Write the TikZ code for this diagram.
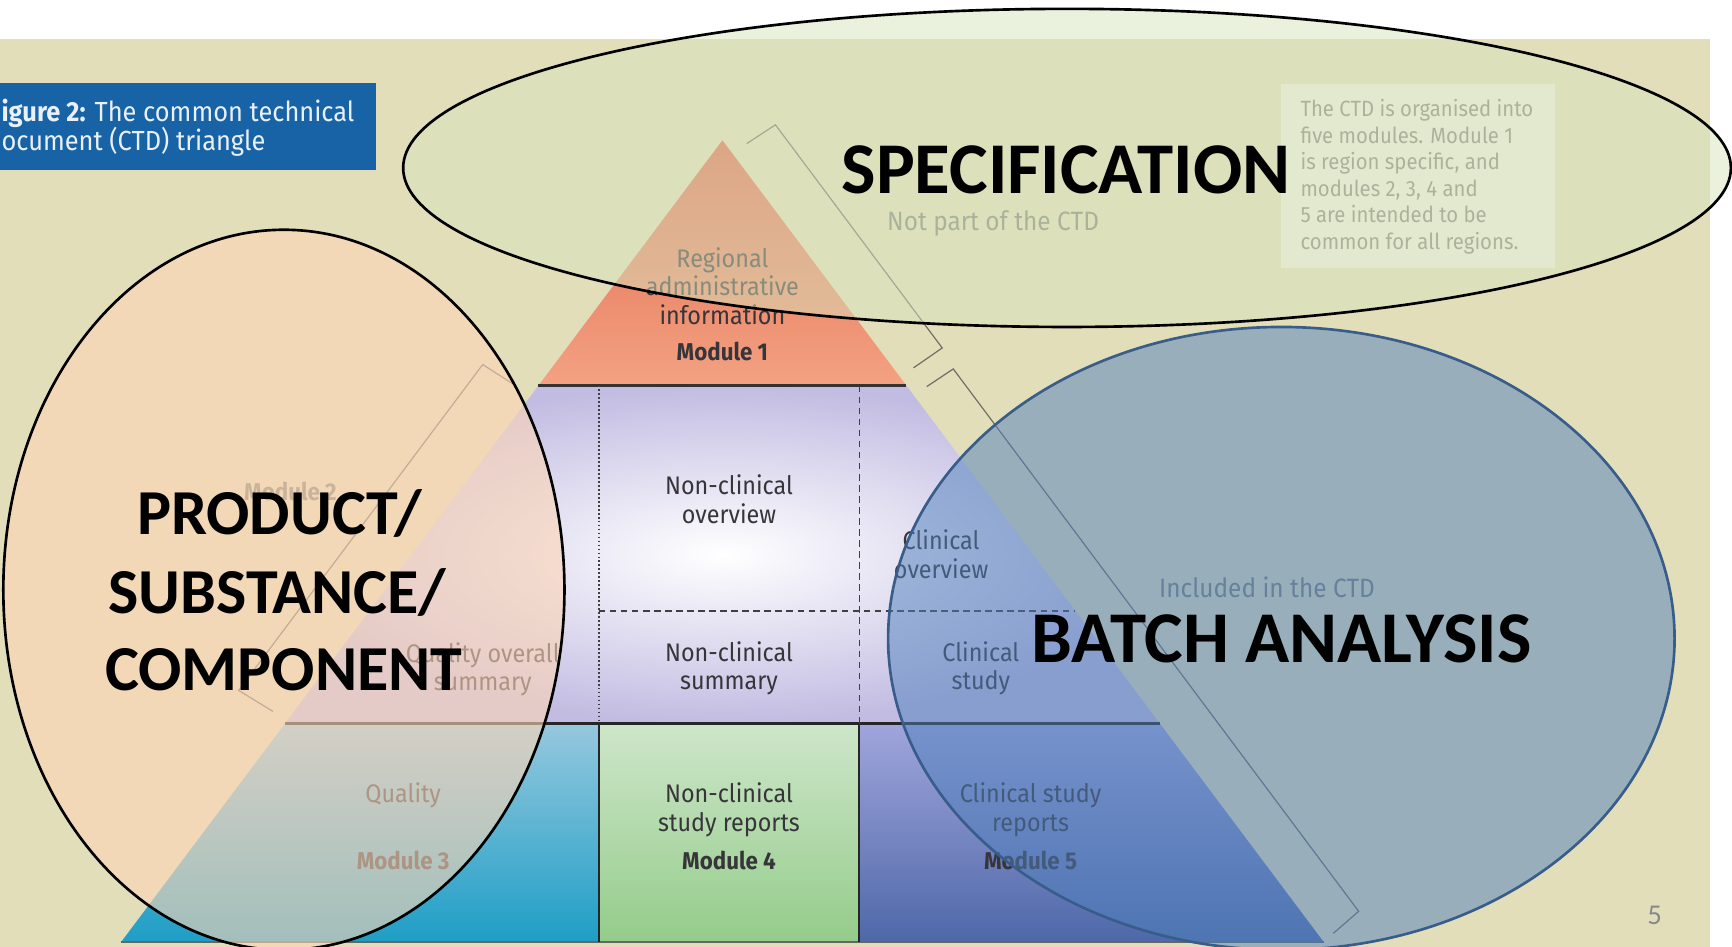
\documentclass[tikz,border=0pt]{standalone}
\usepackage{fontspec}
\setmainfont{Carlito}
\newfontfamily\figfont[FakeStretch=0.92]{Fira Sans}

\definecolor{slidebg}{RGB}{227,222,186}
\definecolor{capblue}{RGB}{24,99,166}
\definecolor{captext}{RGB}{232,240,248}
\definecolor{modtext}{RGB}{55,52,58}
\definecolor{notetext}{RGB}{128,128,122}
\definecolor{rulegray}{RGB}{112,112,104}
\definecolor{infofill}{RGB}{238,240,224}
\definecolor{redtop}{RGB}{226,104,80}
\definecolor{redbot}{RGB}{243,162,130}
\definecolor{lavender}{RGB}{194,188,226}
\definecolor{tealtop}{RGB}{150,200,222}
\definecolor{tealbot}{RGB}{30,158,198}
\definecolor{greentop}{RGB}{206,230,202}
\definecolor{greenbot}{RGB}{148,204,138}
\definecolor{bluetop}{RGB}{160,165,220}
\definecolor{bluebot}{RGB}{78,104,168}
\definecolor{specfill}{RGB}{215,228,189}
\definecolor{prodfill}{RGB}{252,213,181}
\definecolor{batchfill}{RGB}{79,129,189}
\definecolor{batchline}{RGB}{56,93,138}

\begin{document}
\begin{tikzpicture}[x=0.5pt,y=-0.5pt,
  figtext/.style={font=\figfont\fontsize{11.5}{13}\selectfont, text=modtext, align=center},
  figlabel/.style={font=\figfont\bfseries\fontsize{11}{13}\selectfont, text=modtext},
  fignote/.style={font=\figfont\fontsize{12}{14}\selectfont, text=notetext},
  captitle/.style={font=\figfont\fontsize{12.5}{13}\selectfont, text=captext},
  ctdbracket/.style={draw=rulegray, line width=0.55pt},
  specring/.style={draw=black, line width=1.2pt, fill=specfill, fill opacity=0.5},
  prodring/.style={draw=black, line width=1.2pt, fill=prodfill, fill opacity=0.6},
  batchring/.style={draw=batchline, line width=1.2pt, fill=batchfill, fill opacity=0.5},
  bigword/.style={font=\bfseries\fontsize{33}{40}\selectfont},
  prodword/.style={font=\bfseries\fontsize{29}{35}\selectfont}]
\tikzstyle{every node}+=[inner sep=0pt]
\useasboundingbox (0,0) rectangle (1568,857);
\clip (0,0) rectangle (1568,857);
\fill [white] (0,0) rectangle (1568,857);
\fill [slidebg] (0,35) rectangle (1548,857);
\fill [capblue] (0,75) rectangle (340,154);
\node [captitle, anchor=base west] (cap1) at (1,110) {\textbf{igure 2:} The common technical};
\node [captitle, anchor=base west] (cap2) at (1,136) {ocument (CTD) triangle};
\shade [top color=redtop, bottom color=redbot] (654,127) -- (820.5,349) -- (487.5,349) -- cycle;
\shade [inner color=white, outer color=lavender] (487.5,349) -- (820.5,349) -- (1050,655) -- (258,655) -- cycle;
\shade [top color=tealtop, bottom color=tealbot] (258,655) -- (542,655) -- (542,853) -- (109.5,853) -- cycle;
\shade [top color=greentop, bottom color=greenbot] (542,655) rectangle (778,853);
\shade [top color=bluetop, bottom color=bluebot] (778,655) -- (1050,655) -- (1198.5,853) -- (778,853) -- cycle;
\draw [black!80, line width=1.5pt] (487.5,349) -- (820.5,349);
\draw [black!85, line width=1.5pt] (258,655) -- (1050,655);
\draw [black!60, line width=1pt] (109.5,853) -- (1198.5,853);
\draw [black!85, line width=1pt] (542,655) -- (542,853);
\draw [black!85, line width=1pt] (778,655) -- (778,853);
\draw [black!75, line width=0.8pt, densely dotted] (542,349) -- (542,655);
\draw [black!75, line width=0.6pt, dash pattern=on 3pt off 2pt] (778,349) -- (778,655);
\draw [black!75, line width=0.6pt, dash pattern=on 3pt off 2pt] (542,553) -- (973.5,553);
\node [figtext] (regional) at (654,259) {Regional\\administrative\\information};
\node [figlabel] (mod1) at (654,318) {Module 1};
\node [figtext] (ncover) at (660,452) {Non-clinical\\overview};
\node [figtext] (ncsum) at (660,605) {Non-clinical\\summary};
\node [figtext] (clover) at (852,502) {Clinical\\overview};
\node [figtext] (clstudy) at (888,605) {Clinical\\study};
\node [figtext] (qos) at (437,606) {Quality overall\\summary};
\node [figlabel, text=notetext] (mod2) at (263,445) {Module 2};
\node [figtext] (quality) at (365,720) {Quality};
\node [figlabel] (mod3) at (365,779) {Module 3};
\node [figtext] (ncreports) at (660,733) {Non-clinical\\study reports};
\node [figlabel] (mod4) at (660,779) {Module 4};
\node [figtext] (clreports) at (933,733) {Clinical study\\reports};
\node [figlabel] (mod5) at (933,779) {Module 5};
\draw [ctdbracket] (676,130) -- (702,113) -- (853,315) -- (827,333);
\draw [ctdbracket] (839,350) -- (863,334) -- (1230,825) -- (1207,845);
\draw [ctdbracket] (465,348) -- (437,330) -- (216,625) -- (247,644);
\node [fignote] (notpart) at (899,202) {Not part of the CTD};
\node [fignote] (included) at (1147,532) {Included in the CTD};
\fill [infofill] (1160,76) rectangle (1408,243);
\node [fignote, font=\figfont\fontsize{10}{12}\selectfont, align=left, anchor=north west] (ctdnote) at (1177,89.5) {The CTD is organised into\\five modules. Module 1\\is region specific, and\\modules 2, 3, 4 and\\5 are intended to be\\common for all regions.};
\node [font=\fontsize{13}{15}\selectfont, text=black!46] (slidenum) at (1498,829) {5};
\draw [specring] (966,152) ellipse [x radius=601, y radius=144];
\draw [prodring] (257,534) ellipse [x radius=254, y radius=326];
\draw [batchring] (1160,578) ellipse [x radius=356, y radius=282];
\node [bigword, anchor=base] (spec) at (965,175) {SPECIFICATION};
\node [bigword, anchor=base] (batch) at (1160,600) {BATCH ANALYSIS};
\node [prodword, anchor=base] (prod1) at (253,484) {PRODUCT/};
\node [prodword, anchor=base] (prod2) at (251,555) {SUBSTANCE/};
\node [prodword, anchor=base] (prod3) at (257,625) {COMPONENT};
\end{tikzpicture}
\end{document}
